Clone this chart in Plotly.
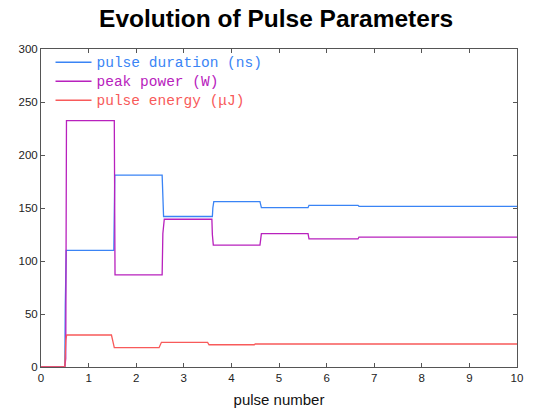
import plotly.graph_objects as go

# pulse duration (ns)
dur_x = [0, 0.50, 0.51, 0.52, 0.53, 1.53, 1.535, 1.545, 1.55, 2.545, 2.56, 2.575, 2.60,
         3.60, 3.61, 3.63, 4.60, 4.63, 5.61, 5.63, 6.66, 6.68, 10]
dur_y = [0, 0, 58, 84, 110, 110, 127, 163, 181, 181, 160, 142, 142,
         142, 150, 156, 156, 150.3, 150.3, 152.5, 152.5, 151.6, 151.6]

# peak power (W)
pow_x = [0, 0.50, 0.52, 0.535, 1.54, 1.545, 1.555, 2.545, 2.55, 2.56, 2.59,
         3.59, 3.60, 3.62, 4.60, 4.63, 5.61, 5.63, 6.66, 6.68, 10]
pow_y = [0, 0, 8, 232.4, 232.4, 196, 87, 87, 99, 126, 139.4,
         139.4, 125, 115, 115, 125.8, 125.8, 120.8, 120.8, 122.6, 122.6]

# pulse energy (uJ)
en_x = [0, 0.50, 0.52, 0.54, 1.48, 1.52, 1.54, 2.48, 2.53, 3.50, 3.53, 4.48, 4.50, 10]
en_y = [0, 0, 25, 30.2, 30.2, 20, 18.2, 18.2, 23.3, 23.3, 21, 21, 21.7, 21.7]

names = ["pulse duration (ns)", "peak power (W)", "pulse energy (\u03bcJ)"]
colors = ["#3a84f5", "#b821bd", "#f85a5a"]

fig = go.Figure()
for (xs, ys), nm, c in zip([(dur_x, dur_y), (pow_x, pow_y), (en_x, en_y)], names, colors):
    fig.add_trace(go.Scatter(
        x=xs, y=ys, mode="lines",
        line=dict(color=c, width=1.3),
        name=f"<span style='color:{c};font-size:14.5px'>{nm}</span>",
    ))

axis_common = dict(
    showgrid=False, zeroline=False, showline=True, mirror="ticks",
    linecolor="#555555", linewidth=1, ticks="inside", ticklen=4,
    tickcolor="#555555", automargin=False,
    tickfont=dict(family="Liberation Sans, Arial", size=11.5, color="#222222"),
)

fig.update_layout(
    width=534, height=412,
    margin=dict(l=41, r=17, t=49, b=45),
    paper_bgcolor="white", plot_bgcolor="white",
    title=dict(text="<b>Evolution of Pulse Parameters</b>",
               font=dict(family="Liberation Sans, Arial", size=24.5, color="#000000"),
               x=0.517, xanchor="center", y=0.955, yanchor="middle"),
    xaxis=dict(range=[0, 10], dtick=1, tick0=0,
               title=dict(text="pulse number", font=dict(family="Liberation Sans, Arial", size=15, color="#111111"),
                          standoff=11),
               **axis_common),
    yaxis=dict(range=[0, 300], dtick=50, tick0=0, **axis_common),
    legend=dict(x=0.02, y=1.004, xanchor="left", yanchor="top",
                bgcolor="rgba(0,0,0,0)", borderwidth=0,
                font=dict(family="Liberation Mono, Courier New", size=11),
                tracegroupgap=0, itemwidth=36),
    showlegend=True,
)

fig.write_html("out.html", config={"displayModeBar": False},
               post_script="document.body.style.margin='0px';")
